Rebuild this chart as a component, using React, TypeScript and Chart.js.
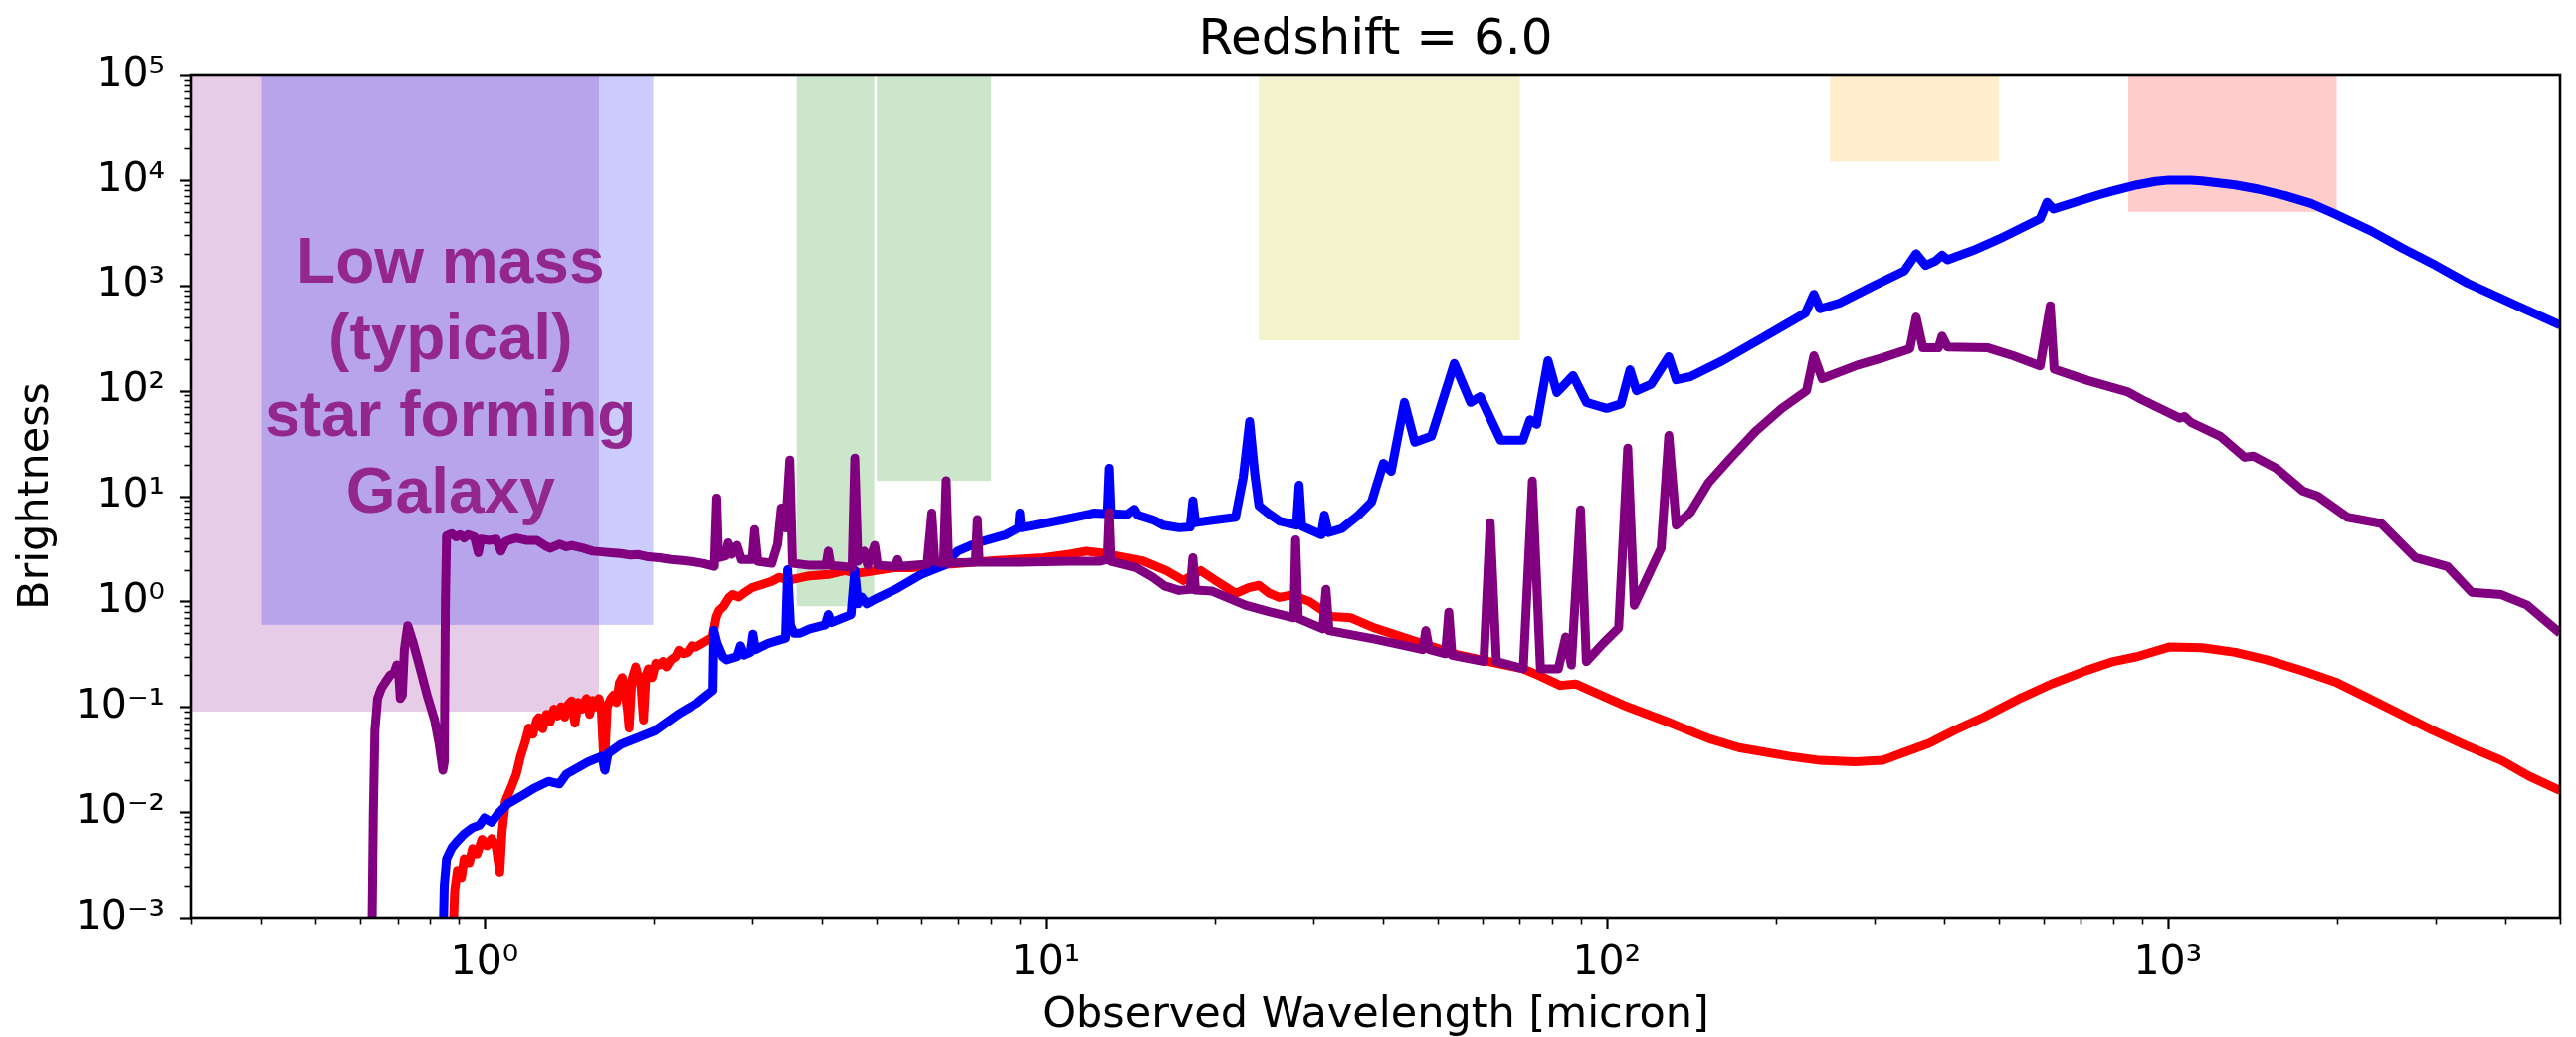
import React, { useEffect, useRef } from "react";
import { Chart, registerables } from "chart.js";

Chart.register(...registerables);

// ---------------- data ----------------
const chartTitle = "Redshift = 6.0";
const xAxisTitle = "Observed Wavelength [micron]";
const yAxisTitle = "Brightness";

const xMin = 0.3;
const xMax = 5000;
const yMin = 1e-3;
const yMax = 1e5;

const xTickValues = [1, 10, 100, 1000];
const xTickLabels = ["10⁰", "10¹", "10²", "10³"];
const yTickValues = [1e-3, 1e-2, 1e-1, 1, 10, 100, 1000, 1e4, 1e5];
const yTickLabels = ["10⁻³", "10⁻²", "10⁻¹", "10⁰", "10¹", "10²", "10³", "10⁴", "10⁵"];

// shaded observing bands
const bandStart = [0.3, 0.4, 3.6, 5.0, 24, 250, 850];
const bandEnd = [1.6, 2.0, 4.95, 8.0, 70, 500, 2000];
const bandFloor = [0.09, 0.6, 0.9, 14, 300, 15000, 5000];
const bandColor = [
  "rgba(128,0,128,0.2)",
  "rgba(0,0,255,0.2)",
  "rgba(0,128,0,0.2)",
  "rgba(0,128,0,0.2)",
  "rgba(191,191,0,0.2)",
  "rgba(255,165,0,0.2)",
  "rgba(255,0,0,0.2)",
];

const annotationLines = ["Low mass", "(typical)", "star forming", "Galaxy"];
const annotationWavelength = 0.87;
const annotationBrightness = 1070;

// purple spectrum
const purpleWavelength = [
  0.63, 0.634, 0.638, 0.645, 0.655, 0.665, 0.679, 0.69, 0.698, 0.703, 0.708, 0.714, 0.72, 0.73, 0.745, 0.765,
  0.79, 0.815, 0.83, 0.843, 0.848, 0.852, 0.856, 0.875, 0.89, 0.905, 0.92, 0.935, 0.96, 0.975, 0.985, 1.02,
  1.05, 1.07, 1.09, 1.12, 1.14, 1.19, 1.24, 1.28, 1.31, 1.36, 1.4, 1.43, 1.5, 1.56, 1.62, 1.68,
  1.75, 1.82, 1.88, 1.96, 2.05, 2.15, 2.25, 2.35, 2.45, 2.57, 2.595, 2.615, 2.69, 2.72, 2.76, 2.82,
  2.87, 3.0, 3.03, 3.07, 3.25, 3.33, 3.38, 3.44, 3.5, 3.54, 3.8, 4.06, 4.1, 4.14, 4.52, 4.57,
  4.63, 4.75, 4.82, 4.96, 5.02, 5.4, 5.45, 5.5, 6.15, 6.27, 6.35, 6.58, 6.65, 6.72, 7.5, 7.56,
  7.62, 9.0, 11.0, 12.5, 12.9, 13.0, 13.1, 14.5, 15.5, 16.3, 17.3, 18.1, 18.3, 18.5, 19.8, 22.7,
  25.0, 27.7, 27.9, 28.2, 31.2, 31.6, 32.0, 38.6, 47.0, 47.6, 48.3, 51.6, 52.3, 53.0, 60.4, 62.0,
  63.6, 71.0, 73.7, 76.2, 82.0, 84.5, 86.5, 89.8, 92.0, 98.5, 105, 109, 112, 125, 129, 133,
  141, 152, 165, 184, 205, 227, 234, 242, 280, 310, 347, 356, 366, 390, 396, 405,
  478, 530, 592, 617, 627, 720, 846, 900, 1050, 1070, 1100, 1240, 1370, 1420, 1560, 1740,
  1850, 2090, 2400, 2760, 3150, 3480, 3930, 4370, 5000,
];
const purpleBrightness = [
  0.0005, 0.01, 0.06, 0.12, 0.15, 0.17, 0.2, 0.21, 0.25, 0.22, 0.12, 0.13, 0.35, 0.59, 0.42, 0.25,
  0.13, 0.075, 0.045, 0.025, 0.03, 1.0, 4.2, 4.4, 4.1, 4.3, 4.0, 4.3, 4.1, 2.9, 3.9, 3.8,
  3.9, 3.0, 3.7, 3.9, 4.0, 3.8, 3.8, 3.4, 3.2, 3.5, 3.3, 3.4, 3.2, 3.0, 2.95, 2.9,
  2.85, 2.75, 2.78, 2.65, 2.6, 2.5, 2.45, 2.38, 2.3, 2.15, 9.6, 2.6, 2.7, 3.6, 2.8, 3.4,
  2.5, 2.5, 4.8, 2.4, 2.3, 3.5, 7.7, 5.0, 22, 2.3, 2.2, 2.2, 3.0, 2.2, 2.1, 23,
  2.4, 3.0, 2.2, 3.4, 2.2, 2.15, 2.5, 2.15, 2.25, 6.9, 2.4, 2.3, 14, 2.3, 2.35, 6.0,
  2.35, 2.35, 2.4, 2.4, 2.5, 7.0, 2.4, 2.1, 1.7, 1.4, 1.27, 1.3, 2.6, 1.28, 1.25, 0.92,
  0.8, 0.7, 3.85, 0.69, 0.55, 1.3, 0.53, 0.44, 0.35, 0.53, 0.35, 0.32, 0.79, 0.31, 0.27, 5.6,
  0.27, 0.23, 13.9, 0.23, 0.23, 0.46, 0.25, 7.4, 0.27, 0.4, 0.56, 28.5, 0.92, 3.2, 37.6, 5.3,
  7.0, 13.5, 22, 41, 68, 100, 215, 130, 175, 205, 250, 500, 255, 255, 330, 260,
  255, 215, 172, 640, 160, 125, 98, 82, 55, 57, 50, 37, 23.4, 24, 18.4, 11.2,
  10.0, 6.3, 5.5, 2.6, 2.14, 1.22, 1.16, 0.92, 0.5,
];

// blue spectrum
const blueWavelength = [
  0.843, 0.848, 0.856, 0.875, 0.892, 0.92, 0.952, 0.98, 1.0, 1.03, 1.06, 1.1, 1.17, 1.23, 1.3, 1.36,
  1.4, 1.53, 1.62, 1.64, 1.66, 1.75, 2.01, 2.22, 2.4, 2.555, 2.565, 2.6, 2.66, 2.7, 2.82, 2.86,
  2.9, 2.98, 3.01, 3.04, 3.2, 3.44, 3.47, 3.51, 3.56, 3.65, 3.8, 4.05, 4.1, 4.15, 4.5, 4.57,
  4.63, 4.7, 4.8, 4.97, 5.4, 6.0, 6.6, 6.97, 7.56, 8.5, 8.96, 9.0, 9.05, 10.6, 12.2, 12.9,
  13.0, 13.1, 14.0, 14.4, 14.6, 15.6, 16.2, 17.3, 18.1, 18.3, 18.5, 19.8, 21.8, 22.5, 23.1, 23.6,
  24.0, 25.0, 26.1, 28.0, 28.3, 28.6, 31.0, 31.4, 31.9, 33.7, 36.0, 38.1, 40.0, 41.3, 43.6, 45.5,
  48.7, 53.5, 57.2, 59.5, 64.7, 70.9, 73.0, 75.0, 78.6, 81.5, 87.1, 92.0, 100, 106, 110, 113,
  120, 129, 133, 141, 161, 190, 226, 234, 240, 260, 300, 339, 356, 370, 385, 396,
  405, 450, 500, 592, 609, 625, 750, 800, 881, 950, 1005, 1100, 1150, 1318, 1450, 1620,
  1800, 1980, 2300, 2620, 3000, 3420, 4100, 5000,
];
const blueBrightness = [
  0.0005, 0.002, 0.0036, 0.0046, 0.0052, 0.0062, 0.0071, 0.0075, 0.0088, 0.008, 0.0098, 0.012, 0.0145, 0.017, 0.0196, 0.0185,
  0.023, 0.03, 0.034, 0.025, 0.036, 0.044, 0.059, 0.086, 0.11, 0.144, 0.53, 0.4, 0.3, 0.28, 0.3, 0.38,
  0.31, 0.33, 0.49, 0.35, 0.4, 0.45, 2.0, 0.6, 0.5, 0.5, 0.55, 0.6, 0.75, 0.63, 0.75, 1.96,
  0.95, 1.1, 0.95, 1.05, 1.3, 1.8, 2.2, 3.0, 3.6, 4.3, 5.0, 6.9, 5.0, 5.9, 6.9, 6.8,
  18.4, 6.8, 6.7, 7.5, 6.6, 5.9, 5.3, 5.0, 5.1, 9.0, 5.6, 5.9, 6.3, 15, 51, 16,
  8.1, 6.8, 5.8, 5.3, 12.7, 5.2, 4.3, 6.6, 4.5, 4.9, 6.5, 8.8, 20.5, 17.2, 77.5, 32.5,
  37, 181, 77.5, 88, 34, 34, 53, 48, 193, 96, 139, 77.5, 68, 75, 158, 100,
  115, 210, 127, 136, 193, 320, 547, 823, 600, 680, 1000, 1370, 2000, 1550, 1700, 1930,
  1750, 2150, 2750, 4300, 6160, 5300, 7200, 7900, 9000, 9700, 10000, 9950, 9800, 9000, 8200, 7100,
  6000, 4800, 3300, 2250, 1550, 1050, 676, 420,
];

// red spectrum
const redWavelength = [
  0.877, 0.885, 0.895, 0.91, 0.92, 0.94, 0.952, 0.97, 0.99, 1.01, 1.03, 1.05, 1.065, 1.075, 1.09, 1.11,
  1.12, 1.14, 1.16, 1.18, 1.2, 1.22, 1.24, 1.25, 1.27, 1.29, 1.31, 1.33, 1.35, 1.37, 1.39, 1.41,
  1.43, 1.45, 1.47, 1.49, 1.52, 1.54, 1.56, 1.58, 1.6, 1.615, 1.635, 1.655, 1.68, 1.7, 1.72, 1.74,
  1.76, 1.78, 1.8, 1.81, 1.83, 1.86, 1.88, 1.9, 1.92, 1.94, 1.96, 1.99, 2.02, 2.05, 2.08, 2.11,
  2.15, 2.19, 2.22, 2.26, 2.3, 2.34, 2.38, 2.44, 2.5, 2.55, 2.59, 2.62, 2.67, 2.73, 2.77, 2.84,
  2.9, 3.0, 3.13, 3.25, 3.35, 3.5, 3.6, 3.8, 4.1, 4.39, 4.6, 4.8, 5.4, 5.77, 6.6, 8.1,
  9.9, 11.0, 11.8, 12.5, 13.4, 14.9, 16.4, 17.6, 18.9, 20.0, 21.8, 23.0, 24.0, 25.0, 26.1, 27.5,
  29.5, 32.3, 35.0, 38.6, 44.3, 54.5, 70.9, 76.2, 82.6, 88.0, 107, 131, 152, 172, 211, 240,
  277, 310, 339, 375, 417, 470, 548, 620, 718, 800, 881, 1005, 1150, 1318, 1500, 1740,
  2000, 2270, 2600, 2960, 3400, 3930, 4400, 5000,
];
const redBrightness = [
  0.0005, 0.0018, 0.0028, 0.0024, 0.0036, 0.0033, 0.0045, 0.004, 0.0055, 0.0048, 0.0056, 0.0046, 0.0027, 0.0065, 0.0127, 0.016,
  0.018, 0.023, 0.034, 0.045, 0.063, 0.055, 0.075, 0.079, 0.062, 0.085, 0.072, 0.095, 0.082, 0.1, 0.08, 0.105,
  0.114, 0.07, 0.11, 0.095, 0.12, 0.085, 0.115, 0.1, 0.12, 0.1, 0.026, 0.1, 0.12, 0.13, 0.11, 0.17,
  0.19, 0.14, 0.09, 0.063, 0.18, 0.24, 0.19, 0.16, 0.075, 0.2, 0.23, 0.19, 0.26, 0.25, 0.27, 0.24,
  0.28, 0.3, 0.345, 0.32, 0.33, 0.38, 0.37, 0.4, 0.43, 0.46, 0.71, 0.82, 0.9, 1.09, 1.16, 1.1,
  1.2, 1.35, 1.45, 1.55, 1.69, 1.6, 1.65, 1.75, 1.8, 1.96, 1.85, 1.9, 2.1, 2.09, 2.24, 2.43,
  2.6, 2.8, 3.0, 2.9, 2.7, 2.43, 1.96, 1.58, 1.96, 1.6, 1.19, 1.35, 1.42, 1.2, 1.09, 1.15,
  1.0, 0.72, 0.7, 0.56, 0.44, 0.31, 0.23, 0.196, 0.16, 0.165, 0.104, 0.069, 0.05, 0.041, 0.034, 0.031,
  0.03, 0.031, 0.037, 0.045, 0.06, 0.08, 0.122, 0.165, 0.223, 0.27, 0.3, 0.37, 0.365, 0.33, 0.28, 0.22,
  0.17, 0.122, 0.085, 0.06, 0.043, 0.031, 0.022, 0.016,
];

// ---------------- helpers ----------------
const FONT = "'DejaVu Sans', sans-serif";

function pairs(xs: number[], ys: number[]) {
  return xs.map((x, i) => ({ x, y: ys[i] }));
}

function logTickValues(min: number, max: number) {
  const out: { v: number; major: boolean }[] = [];
  for (let e = -5; e <= 6; e++) {
    for (let m = 1; m <= 9; m++) {
      const v = Number((m * Math.pow(10, e)).toPrecision(6));
      if (v >= min * 0.9999 && v <= max * 1.0001) out.push({ v, major: m === 1 });
    }
  }
  return out;
}

const decorPlugin = {
  id: "decor",
  beforeDatasetsDraw(chart: any) {
    const { ctx, chartArea, scales } = chart;
    const xs = scales.x;
    const ys = scales.y;
    ctx.save();
    ctx.beginPath();
    ctx.rect(chartArea.left, chartArea.top, chartArea.right - chartArea.left, chartArea.bottom - chartArea.top);
    ctx.clip();
    for (let i = 0; i < bandStart.length; i++) {
      const x0 = xs.getPixelForValue(bandStart[i]);
      const x1 = xs.getPixelForValue(bandEnd[i]);
      const y0 = ys.getPixelForValue(yMax);
      const y1 = ys.getPixelForValue(bandFloor[i]);
      ctx.fillStyle = bandColor[i];
      ctx.fillRect(x0, y0, x1 - x0, y1 - y0);
    }
    ctx.fillStyle = "#93278f";
    ctx.font = "bold 64px 'Liberation Sans', Arial, sans-serif";
    ctx.textAlign = "center";
    ctx.textBaseline = "alphabetic";
    const ax = xs.getPixelForValue(annotationWavelength);
    const ay = ys.getPixelForValue(annotationBrightness);
    annotationLines.forEach((t, i) => ctx.fillText(t, ax, ay + i * 77));
    ctx.restore();
  },
  afterDatasetsDraw(chart: any) {
    const { ctx, chartArea, scales } = chart;
    const { left, right, top, bottom } = chartArea;
    const xs = scales.x;
    const ys = scales.y;
    ctx.save();
    ctx.strokeStyle = "#000";
    for (const t of logTickValues(xMin, xMax)) {
      const px = Math.round(xs.getPixelForValue(t.v)) + 0.5;
      ctx.lineWidth = t.major ? 2.2 : 1.6;
      ctx.beginPath();
      ctx.moveTo(px, bottom);
      ctx.lineTo(px, bottom + (t.major ? 11 : 6.5));
      ctx.stroke();
    }
    for (const t of logTickValues(yMin, yMax)) {
      const py = Math.round(ys.getPixelForValue(t.v)) + 0.5;
      ctx.lineWidth = t.major ? 2.2 : 1.6;
      ctx.beginPath();
      ctx.moveTo(left, py);
      ctx.lineTo(left - (t.major ? 11 : 6.5), py);
      ctx.stroke();
    }
    ctx.lineWidth = 2.6;
    ctx.strokeRect(left, top, right - left, bottom - top);
    ctx.restore();
  },
};

export default function App() {
  const ref = useRef<HTMLCanvasElement>(null);

  useEffect(() => {
    const lineStyle = {
      borderWidth: 9,
      pointRadius: 0,
      pointHoverRadius: 0,
      tension: 0,
      fill: false,
      clip: 0,
      borderJoinStyle: "round" as const,
      borderCapStyle: "butt" as const,
    };
    const chart = new Chart(ref.current as HTMLCanvasElement, {
      type: "line",
      data: {
        datasets: [
          { label: "purple", data: pairs(purpleWavelength, purpleBrightness), borderColor: "#800080", ...lineStyle },
          { label: "blue", data: pairs(blueWavelength, blueBrightness), borderColor: "#0000ff", ...lineStyle },
          { label: "red", data: pairs(redWavelength, redBrightness), borderColor: "#ff0000", ...lineStyle },
        ],
      },
      options: {
        animation: false,
        responsive: false,
        devicePixelRatio: 1,
        events: [],
        layout: { padding: { left: 0, right: 16, top: 0, bottom: 0 } },
        plugins: {
          legend: { display: false },
          tooltip: { enabled: false },
          title: {
            display: true,
            text: chartTitle,
            fullSize: false,
            color: "#000",
            font: { family: FONT, size: 50, weight: "normal", lineHeight: 1.2 },
            padding: { top: 11, bottom: 4 },
          },
        },
        scales: {
          x: {
            type: "logarithmic",
            position: "bottom",
            min: xMin,
            max: xMax,
            grid: { display: false, drawTicks: false },
            border: { display: false },
            afterBuildTicks: (s: any) => {
              s.ticks = xTickValues.map((v) => ({ value: v }));
            },
            afterFit: (s: any) => {
              s.height = 120;
            },
            ticks: {
              autoSkip: false,
              maxRotation: 0,
              minRotation: 0,
              padding: 22,
              color: "#000",
              font: { family: FONT, size: 41 },
              callback: (v: any) => {
                const i = xTickValues.indexOf(Number(v));
                return i >= 0 ? xTickLabels[i] : "";
              },
            },
            title: {
              display: true,
              text: xAxisTitle,
              color: "#000",
              font: { family: FONT, size: 43, lineHeight: 1 },
              padding: 0,
            },
          },
          y: {
            type: "logarithmic",
            position: "left",
            min: yMin,
            max: yMax,
            grid: { display: false, drawTicks: false },
            border: { display: false },
            afterBuildTicks: (s: any) => {
              s.ticks = yTickValues.map((v) => ({ value: v }));
            },
            afterFit: (s: any) => {
              s.width = 192;
            },
            ticks: {
              autoSkip: false,
              padding: 26,
              color: "#000",
              font: { family: FONT, size: 41 },
              callback: (v: any) => {
                const i = yTickValues.indexOf(Number(v));
                return i >= 0 ? yTickLabels[i] : "";
              },
            },
            title: {
              display: true,
              text: yAxisTitle,
              color: "#000",
              font: { family: FONT, size: 43, lineHeight: 1.2 },
              padding: { top: 11, bottom: 0 },
            },
          },
        },
      } as any,
      plugins: [decorPlugin],
    });
    return () => chart.destroy();
  }, []);

  return (
    <div style={{ position: "fixed", left: 0, top: 0, width: 2589, height: 1042, background: "#fff" }}>
      <canvas ref={ref} width={2589} height={1042} style={{ display: "block", width: 2589, height: 1042 }} />
    </div>
  );
}
